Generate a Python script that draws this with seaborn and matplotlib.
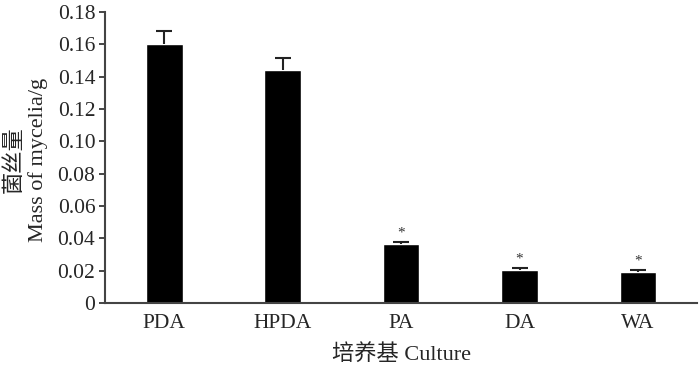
import matplotlib
matplotlib.use("Agg")
import matplotlib.pyplot as plt
import seaborn as sns
import pandas as pd

# Datos
cultivos = ["PDA", "HPDA", "PA", "DA", "WA"]
masa = [0.160, 0.144, 0.0365, 0.0202, 0.0194]
error = [0.0085, 0.0075, 0.0015, 0.0013, 0.0009]
signif = ["", "", "*", "*", "*"]
yticks = [0, 0.02, 0.04, 0.06, 0.08, 0.10, 0.12, 0.14, 0.16, 0.18]
ytick_labels = ["0", "0.02", "0.04", "0.06", "0.08", "0.10", "0.12", "0.14", "0.16", "0.18"]

df = pd.DataFrame({"cultivo": cultivos, "masa": masa})

sns.set_style("ticks")
plt.rcParams["font.family"] = ["Liberation Serif", "Noto Sans CJK SC"]

fig = plt.figure(figsize=(7, 3.67), dpi=100)
ax = fig.add_axes([0.15, 0.1744, 0.846, 0.7926])

sns.barplot(x="cultivo", y="masa", data=df, color="black", width=0.31,
            errorbar=None, ax=ax, saturation=1)
# solo la barra de error hacia arriba
eb = ax.errorbar(range(len(cultivos)), masa, yerr=[[0] * len(error), error],
                 fmt="none", ecolor="#222222", elinewidth=1.5, capsize=6, capthick=1.5)
eb[1][0].set_visible(False)

for i, s in enumerate(signif):
    if s:
        ax.text(i, masa[i] + error[i] + 0.0015, s, ha="center", va="bottom",
                fontsize=11, color="#333333")

ax.set_xlim(-0.5, 4.5)
ax.set_ylim(0, 0.18)
ax.set_yticks(yticks)
ax.set_yticklabels(ytick_labels)
ax.tick_params(axis="y", direction="out", length=4, width=1.2, labelsize=15.5, pad=3)
ax.tick_params(axis="x", length=0, labelsize=15.5, pad=8)
for sp in ["top", "right"]:
    ax.spines[sp].set_visible(False)
for sp in ["left", "bottom"]:
    ax.spines[sp].set_linewidth(1.5)
    ax.spines[sp].set_color("#444444")

ax.set_xlabel("培养基 Culture", fontsize=16, labelpad=8)
ax.set_ylabel("")
fig.text(0.02, 0.564, "菌丝量", rotation=90, ha="center", va="center", fontsize=16)
fig.text(0.055, 0.564, "Mass of mycelia/g", rotation=90, ha="center", va="center", fontsize=16)

plt.savefig("out.png", dpi=100)
